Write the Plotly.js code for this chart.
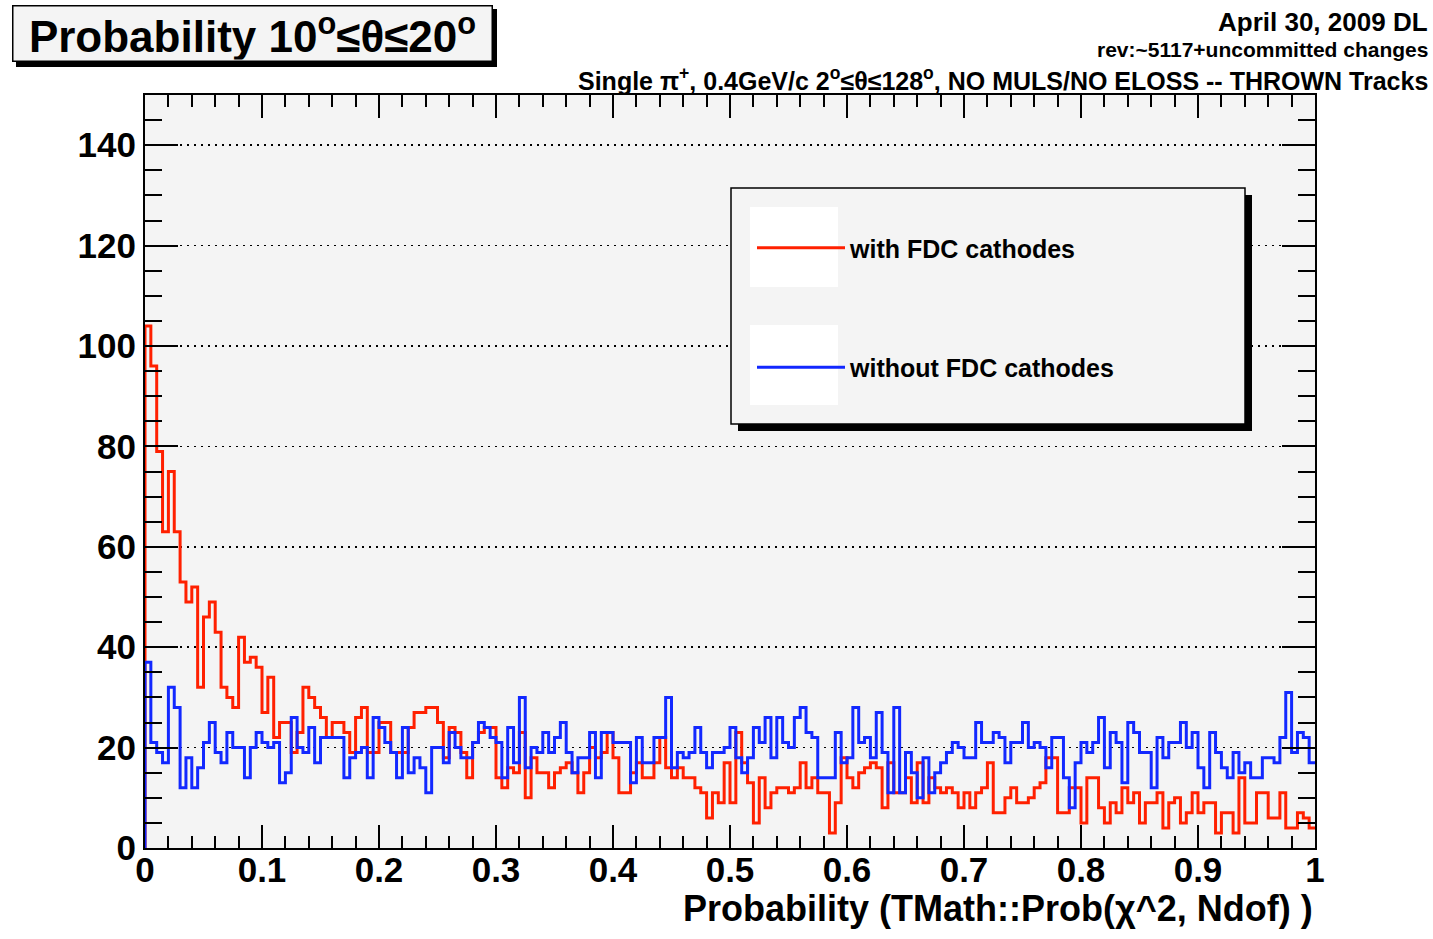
<!DOCTYPE html>
<html>
<head>
<meta charset="utf-8">
<script src="https://cdn.plot.ly/plotly-3.0.1.min.js"></script>
<style>html,body{margin:0;padding:0;background:#fff;}#chart{width:1433px;height:939px;}</style>
</head>
<body>
<div id="chart"></div>
<script>
// Histogram counts per bin (200 bins over Probability 0..1)
const withFDC = [
104, 96, 79, 63, 75, 63,
53, 49, 52, 32, 46, 49, 43, 32, 30, 28, 42, 37, 38, 36, 27, 34, 22, 25, 25, 19, 23, 32, 30, 28, 26, 22, 25,
25, 23, 19, 26, 28, 19, 19, 25, 25, 19, 19, 19, 24, 27, 27, 28, 28, 25, 18, 24, 23, 19, 14, 21, 23, 24, 24, 14, 12, 16, 15, 23, 10, 18, 15, 15, 12, 15, 16, 17, 15, 11,
15, 20, 18, 19, 23, 18, 11, 11, 15, 17, 14, 14, 17, 22, 16, 14, 16, 14, 14, 12, 11, 6, 11, 9, 17, 9, 23, 17, 13, 5, 14, 8, 11, 12, 12, 11, 12, 17, 12, 14, 11, 11,
3, 9, 18, 14, 12, 15, 16, 17, 16, 8, 17, 11, 11, 14, 9, 17, 9, 14, 12, 11, 12, 11, 8, 11, 8, 11, 12, 17, 7, 7, 10, 12, 9, 9, 10, 12, 13, 18, 18, 7, 7, 12,
12, 5, 14, 14, 8, 5, 9, 7, 12, 9, 11, 5, 9, 9, 11, 4, 9, 10, 5, 7, 11, 7, 9, 9, 3, 7, 7, 3, 14, 5, 5, 11, 11, 6, 6, 11, 4, 4, 7, 6, 4
];
const withoutFDC = [
37, 21, 19, 17, 32, 28, 12, 18, 12, 16, 21, 25, 19, 17, 23, 20, 20, 14, 20, 23, 21, 20, 21, 13, 15, 26, 20, 19, 24, 17, 22, 22, 22,
22, 14, 18, 19, 20, 14, 26, 24, 21, 19, 14, 24, 15, 18, 16, 11, 20, 20, 17, 23, 20, 18, 18, 21, 25, 24, 22, 21, 14, 24, 17, 30, 16, 20, 19, 23, 19, 22, 25, 19, 15, 18,
18, 23, 14, 23, 23, 21, 21, 21, 13, 22, 17, 17, 22, 22, 30, 16, 19, 18, 19, 24, 19, 16, 19, 19, 20, 24, 18, 15, 18, 24, 21, 26, 18, 26, 21, 20, 26, 28, 23, 22, 14, 14,
14, 23, 17, 18, 28, 21, 22, 18, 27, 19, 11, 28, 11, 19, 15, 10, 18, 11, 15, 17, 19, 21, 20, 18, 18, 25, 21, 21, 23, 22, 17, 21, 21, 25, 20, 21, 20, 16, 22, 22, 14, 8,
17, 21, 19, 21, 26, 16, 23, 21, 13, 25, 23, 19, 19, 12, 22, 18, 21, 21, 25, 20, 23, 16, 12, 23, 19, 16, 14, 19, 15, 17, 14, 14, 18, 18, 17, 22, 31, 19, 23, 22, 17
];
const seriesNames = ['with FDC cathodes', 'without FDC cathodes'];
const xTickVals = [0, 0.1, 0.2, 0.3, 0.4, 0.5, 0.6, 0.7, 0.8, 0.9, 1];
const xTickText = ['0', '0.1', '0.2', '0.3', '0.4', '0.5', '0.6', '0.7', '0.8', '0.9', '1'];
const yTickVals = [0, 20, 40, 60, 80, 100, 120, 140];
const xMin = 0, xMax = 1;

// Build ROOT-style step outline from bin contents
function stepXY(vals) {
  const n = vals.length, w = (xMax - xMin) / n;
  const xs = [xMin], ys = [0];
  for (let i = 0; i < n; i++) { xs.push(xMin + i * w); ys.push(vals[i]); }
  xs.push(xMax); ys.push(vals[n - 1]);
  return {x: xs, y: ys};
}
const r = stepXY(withFDC), b = stepXY(withoutFDC);

const FONT = 'Liberation Sans, Arial, Helvetica, sans-serif';
const traces = [
  {x: r.x, y: r.y, type: 'scatter', mode: 'lines', name: seriesNames[0], legendgroup: 'a',
   line: {shape: 'hv', color: 'rgb(255,32,0)', width: 3}},
  {x: b.x, y: b.y, type: 'scatter', mode: 'lines', name: seriesNames[1], legendgroup: 'b',
   line: {shape: 'hv', color: 'rgb(18,40,255)', width: 3}}
];

const W = 1433, H = 939, L = 145, R = 118, T = 95, B = 91;
const pw = W - L - R, ph = H - T - B;
const px = v => (v - L) / pw;          // pixel -> paper x
const py = v => (H - B - v) / ph;      // pixel -> paper y

const tickfont = {family: FONT, size: 35, weight: 'bold', color: '#000'};
const layout = {
  width: W, height: H,
  margin: {l: L, r: R, t: T, b: B, pad: 0},
  paper_bgcolor: '#ffffff', plot_bgcolor: '#f4f4f4',
  showlegend: true,
  xaxis: {
    range: [xMin, xMax], tickmode: 'array', tickvals: xTickVals, ticktext: xTickText,
    ticks: 'inside', ticklen: 23, tickwidth: 2, tickcolor: '#000', ticklabelstandoff: -10,
    showline: true, linewidth: 2, linecolor: '#000', mirror: 'allticks',
    showgrid: false, zeroline: false, tickfont: tickfont,
    minor: {dtick: 0.02, tick0: 0, ticks: 'inside', ticklen: 12, tickwidth: 2, tickcolor: '#000', showgrid: false}
  },
  yaxis: {
    range: [0, 150], tickmode: 'array', tickvals: yTickVals,
    ticks: 'inside', ticklen: 33, tickwidth: 2, tickcolor: '#000',
    showline: true, linewidth: 2, linecolor: '#000', mirror: 'allticks',
    showgrid: true, gridcolor: '#000', gridwidth: 1.5, griddash: '2px,5px',
    zeroline: false, tickfont: tickfont,
    minor: {dtick: 5, tick0: 0, ticks: 'inside', ticklen: 17, tickwidth: 2, tickcolor: '#000', showgrid: false}
  },
  legend: {
    x: px(752), y: py(225), xanchor: 'left', yanchor: 'top',
    bgcolor: 'rgba(0,0,0,0)', borderwidth: 0,
    font: {family: FONT, size: 25, weight: 'bold', color: '#000'},
    tracegroupgap: 84, traceorder: 'grouped', itemwidth: 88
  },
  shapes: [
    // title box shadow
    {type: 'rect', xref: 'paper', yref: 'paper', x0: px(16), x1: px(497), y0: py(67), y1: py(9),
     fillcolor: '#000', line: {width: 0}, layer: 'above'},
    // legend shadow + box + sample boxes
    {type: 'rect', xref: 'paper', yref: 'paper', x0: px(738), x1: px(1252), y0: py(431), y1: py(195),
     fillcolor: '#000', line: {width: 0}, layer: 'above'},
    {type: 'rect', xref: 'paper', yref: 'paper', x0: px(731), x1: px(1245), y0: py(424), y1: py(188),
     fillcolor: '#f4f4f4', line: {color: '#000', width: 1.5}, layer: 'above'},
    {type: 'rect', xref: 'paper', yref: 'paper', x0: px(750), x1: px(838), y0: py(287), y1: py(207),
     fillcolor: '#ffffff', line: {width: 0}, layer: 'above'},
    {type: 'rect', xref: 'paper', yref: 'paper', x0: px(750), x1: px(838), y0: py(405), y1: py(325),
     fillcolor: '#ffffff', line: {width: 0}, layer: 'above'}
  ],
  annotations: [
    {text: 'Probability 10<sup>o</sup>≤θ≤20<sup>o</sup>', xref: 'paper', yref: 'paper',
     x: px(12), y: py(5), xanchor: 'left', yanchor: 'top', showarrow: false,
     bgcolor: '#f4f4f4', bordercolor: '#000', borderwidth: 1.5, width: 476, height: 52, align: 'center',
     font: {family: FONT, size: 44, weight: 'bold', color: '#000'}},
    {text: 'April 30, 2009 DL', xref: 'paper', yref: 'paper', x: px(1430), y: py(22),
     xanchor: 'right', yanchor: 'middle', showarrow: false,
     font: {family: FONT, size: 26, weight: 'bold', color: '#000'}},
    {text: 'rev:~5117+uncommitted changes', xref: 'paper', yref: 'paper', x: px(1430), y: py(49),
     xanchor: 'right', yanchor: 'middle', showarrow: false,
     font: {family: FONT, size: 21, weight: 'bold', color: '#000'}},
    {text: 'Single π<sup>+</sup>, 0.4GeV/c 2<sup>o</sup>≤θ≤128<sup>o</sup>, NO MULS/NO ELOSS -- THROWN Tracks',
     xref: 'paper', yref: 'paper', x: px(1430), y: py(79),
     xanchor: 'right', yanchor: 'middle', showarrow: false,
     font: {family: FONT, size: 25, weight: 'bold', color: '#000'}},
    {text: 'Probability (TMath::Prob(χ^2, Ndof) )', xref: 'paper', yref: 'paper', x: 1, y: py(908),
     xanchor: 'right', yanchor: 'middle', showarrow: false,
     font: {family: FONT, size: 36, weight: 'bold', color: '#000'}}
  ]
};
if (withFDC.length !== 200 || withoutFDC.length !== 200) {
  layout.annotations.push({text: 'LEN ' + withFDC.length + ' ' + withoutFDC.length, x: 0.5, y: 0.5,
    xref: 'paper', yref: 'paper', showarrow: false, font: {size: 40, color: 'magenta'}});
}
Plotly.newPlot('chart', traces, layout, {displayModeBar: false, staticPlot: true});
</script>
</body>
</html>
